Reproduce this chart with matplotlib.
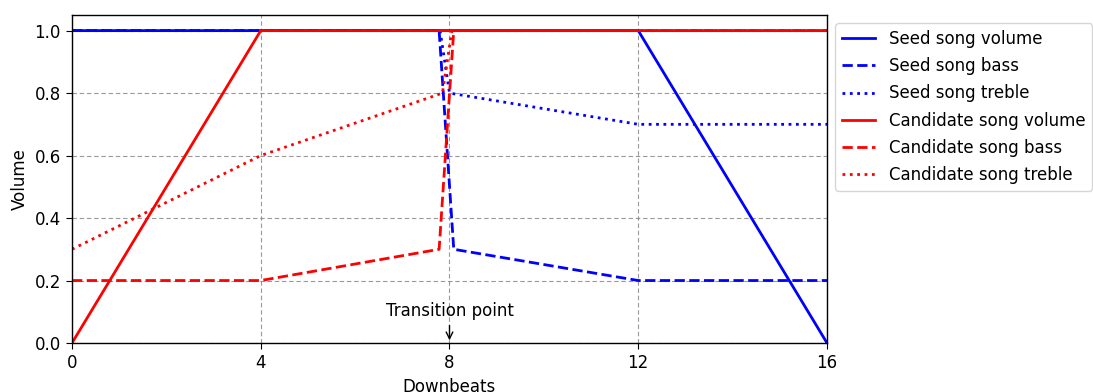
import numpy as np
import matplotlib

matplotlib.use('Agg')
import matplotlib.pyplot as plt

plt.rcParams['font.size'] = 12
plt.rcParams['xtick.major.size'] = 4.5
plt.rcParams['ytick.major.size'] = 4.5
plt.rcParams['axes.linewidth'] = 1.0

# Точки автоматизации (доли такта -> громкость)
seed_volume_x = [0, 12, 16]
seed_volume_y = [1.0, 1.0, 0.0]
seed_bass_x = [0, 7.78, 8.09, 12, 16]
seed_bass_y = [1.0, 1.0, 0.3, 0.2, 0.2]
seed_treble_x = [0, 7.8, 8.0, 12, 16]
seed_treble_y = [1.0, 1.0, 0.8, 0.7, 0.7]

cand_volume_x = [0, 4, 16]
cand_volume_y = [0.0, 1.0, 1.0]
cand_bass_x = [0, 4, 7.78, 8.09, 16]
cand_bass_y = [0.2, 0.2, 0.3, 1.0, 1.0]
cand_treble_x = [0, 4, 7.85, 8.05, 16]
cand_treble_y = [0.3, 0.6, 0.8, 1.0, 1.0]

transition = 8

fig = plt.figure(figsize=(10.93, 3.92), dpi=100)
ax = fig.add_axes([72 / 1093, 1 - 343 / 392, 755 / 1093, 328 / 392])

lw = 2.0
ax.plot(seed_volume_x, seed_volume_y, color='blue', linestyle='-', linewidth=lw, label='Seed song volume')
ax.plot(seed_bass_x, seed_bass_y, color='blue', linestyle='--', linewidth=lw, label='Seed song bass')
ax.plot(seed_treble_x, seed_treble_y, color='blue', linestyle=':', linewidth=lw, label='Seed song treble')
ax.plot(cand_volume_x, cand_volume_y, color='red', linestyle='-', linewidth=lw, label='Candidate song volume')
ax.plot(cand_bass_x, cand_bass_y, color='red', linestyle='--', linewidth=lw, label='Candidate song bass')
ax.plot(cand_treble_x, cand_treble_y, color='red', linestyle=':', linewidth=lw, label='Candidate song treble')

ax.annotate('Transition point', xy=(transition, 0.0), xytext=(transition, 0.103),
            ha='center', va='center',
            arrowprops=dict(arrowstyle='->', color='black', lw=1))

ax.set_xlim(0, 16)
ax.set_ylim(0, 1.05)
ax.set_xticks([0, 4, 8, 12, 16])
ax.set_yticks([0.0, 0.2, 0.4, 0.6, 0.8, 1.0])
ax.set_xlabel('Downbeats')
ax.set_ylabel('Volume')
ax.grid(True, linestyle='--', color='gray', alpha=0.8, dashes=(4, 2.5))

ax.legend(loc='upper left', bbox_to_anchor=(1.0, 1.0), fontsize=12, labelspacing=0.55)

plt.savefig('out.png', dpi=100)
